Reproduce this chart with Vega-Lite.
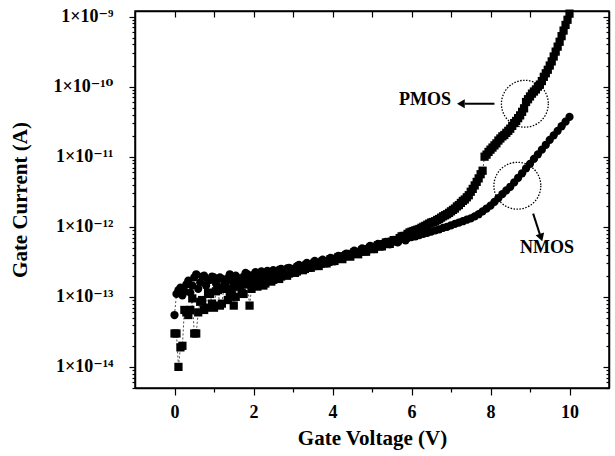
{
  "$schema": "https://vega.github.io/schema/vega-lite/v6.json",
  "width": 474,
  "height": 377,
  "autosize": {"type": "none"},
  "padding": {"left": 135, "top": 11, "right": 6, "bottom": 68},
  "background": "white",
  "config": {"view": {"stroke": "black", "strokeWidth": 1.5}, "font": "Liberation Serif"},
  "datasets": {
    "curves": [
      {"s":"N","v":0.0,"i":5.5e-14},{"s":"N","v":0.1,"i":1.25e-13},{"s":"N","v":0.2,"i":1.05e-13},{"s":"N","v":0.3,"i":1.5e-13},{"s":"N","v":0.4,"i":1.15e-13},{"s":"N","v":0.5,"i":1.9e-13},{"s":"N","v":0.6,"i":1.3e-13},{"s":"N","v":0.7,"i":1.95e-13},{"s":"N","v":0.8,"i":1.45e-13},{"s":"N","v":0.9,"i":1.75e-13},
      {"s":"N","v":1.0,"i":1.9e-13},{"s":"N","v":1.1,"i":1.35e-13},{"s":"N","v":1.2,"i":1.8e-13},{"s":"N","v":1.3,"i":1.6e-13},{"s":"N","v":1.4,"i":2.1e-13},{"s":"N","v":1.5,"i":1.55e-13},{"s":"N","v":1.6,"i":1.85e-13},{"s":"N","v":1.7,"i":1.5e-13},{"s":"N","v":1.8,"i":2.2e-13},{"s":"N","v":1.9,"i":1.7e-13},
      {"s":"N","v":2.0,"i":2.05e-13},{"s":"N","v":2.1,"i":1.75e-13},{"s":"N","v":2.2,"i":2.3e-13},{"s":"N","v":2.3,"i":1.9e-13},{"s":"N","v":2.4,"i":2.15e-13},{"s":"N","v":2.5,"i":2.4e-13},{"s":"N","v":2.6,"i":2.0e-13},{"s":"N","v":2.7,"i":2.5e-13},{"s":"N","v":2.8,"i":2.2e-13},{"s":"N","v":2.9,"i":2.6e-13},
      {"s":"N","v":3.0,"i":2.35e-13},{"s":"N","v":3.1,"i":2.75e-13},{"s":"N","v":3.2,"i":2.5e-13},{"s":"N","v":3.3,"i":2.85e-13},{"s":"N","v":3.4,"i":2.65e-13},{"s":"N","v":3.5,"i":3.0e-13},{"s":"N","v":3.6,"i":2.85e-13},{"s":"N","v":3.7,"i":3.15e-13},{"s":"N","v":3.8,"i":3.05e-13},{"s":"N","v":3.9,"i":3.35e-13},
      {"s":"N","v":4.0,"i":3.45e-13},{"s":"N","v":4.1,"i":3.55e-13},{"s":"N","v":4.2,"i":3.7e-13},{"s":"N","v":4.3,"i":3.85e-13},{"s":"N","v":4.4,"i":3.95e-13},{"s":"N","v":4.5,"i":4.15e-13},{"s":"N","v":4.6,"i":4.3e-13},{"s":"N","v":4.7,"i":4.45e-13},{"s":"N","v":4.8,"i":4.7e-13},{"s":"N","v":4.9,"i":4.85e-13},
      {"s":"N","v":5.0,"i":5.1e-13},{"s":"N","v":5.1,"i":5.25e-13},{"s":"N","v":5.2,"i":5.45e-13},{"s":"N","v":5.3,"i":5.7e-13},{"s":"N","v":5.4,"i":5.9e-13},{"s":"N","v":5.5,"i":6.1e-13},{"s":"N","v":5.6,"i":6.3e-13},{"s":"N","v":5.7,"i":6.5e-13},{"s":"N","v":5.8,"i":6.7e-13},{"s":"N","v":5.9,"i":6.9e-13},
      {"s":"N","v":0.05,"i":1.1e-13},{"s":"N","v":0.15,"i":1.35e-13},{"s":"N","v":0.25,"i":1.2e-13},{"s":"N","v":0.35,"i":1.7e-13},{"s":"N","v":0.45,"i":1.45e-13},{"s":"N","v":0.55,"i":2.1e-13},{"s":"N","v":0.65,"i":1.6e-13},{"s":"N","v":0.75,"i":2.0e-13},{"s":"N","v":0.85,"i":1.7e-13},{"s":"N","v":0.95,"i":1.95e-13},
      {"s":"N","v":1.05,"i":1.55e-13},{"s":"N","v":1.15,"i":1.9e-13},{"s":"N","v":1.25,"i":1.45e-13},{"s":"N","v":1.35,"i":1.85e-13},{"s":"N","v":1.45,"i":1.7e-13},{"s":"N","v":1.55,"i":2.0e-13},{"s":"N","v":1.65,"i":1.65e-13},{"s":"N","v":1.75,"i":1.95e-13},{"s":"N","v":1.85,"i":2.1e-13},{"s":"N","v":1.95,"i":1.8e-13},
      {"s":"N","v":2.05,"i":2.25e-13},{"s":"N","v":2.15,"i":1.95e-13},{"s":"N","v":2.25,"i":2.05e-13},{"s":"N","v":2.35,"i":2.35e-13},{"s":"N","v":2.45,"i":2.0e-13},{"s":"N","v":2.55,"i":2.3e-13},{"s":"N","v":2.65,"i":2.45e-13},{"s":"N","v":2.75,"i":2.15e-13},{"s":"N","v":2.85,"i":2.55e-13},{"s":"N","v":2.95,"i":2.4e-13},
      {"s":"N","v":3.05,"i":2.25e-13},{"s":"N","v":3.15,"i":2.85e-13},{"s":"N","v":3.25,"i":2.45e-13},{"s":"N","v":3.35,"i":3.05e-13},{"s":"N","v":3.45,"i":2.6e-13},{"s":"N","v":3.55,"i":3.25e-13},{"s":"N","v":3.65,"i":2.8e-13},{"s":"N","v":3.75,"i":3.4e-13},{"s":"N","v":3.85,"i":3.0e-13},{"s":"N","v":3.95,"i":3.6e-13},
      {"s":"N","v":4.05,"i":3.2e-13},{"s":"N","v":4.15,"i":3.85e-13},{"s":"N","v":4.25,"i":3.5e-13},{"s":"N","v":4.35,"i":4.15e-13},{"s":"N","v":4.45,"i":3.8e-13},{"s":"N","v":4.55,"i":4.55e-13},{"s":"N","v":4.65,"i":4.1e-13},{"s":"N","v":4.75,"i":4.9e-13},{"s":"N","v":4.85,"i":4.45e-13},{"s":"N","v":4.95,"i":5.35e-13},
      {"s":"N","v":5.05,"i":4.8e-13},{"s":"N","v":5.15,"i":5.7e-13},{"s":"N","v":5.25,"i":5.2e-13},{"s":"N","v":5.35,"i":6.1e-13},{"s":"N","v":5.45,"i":5.6e-13},{"s":"N","v":5.55,"i":6.5e-13},{"s":"N","v":5.65,"i":6.0e-13},{"s":"N","v":5.75,"i":6.95e-13},{"s":"N","v":5.85,"i":6.4e-13},{"s":"N","v":5.95,"i":7.3e-13},
      {"s":"N","v":6.0,"i":7.1e-13},{"s":"N","v":6.1,"i":7.3e-13},{"s":"N","v":6.2,"i":7.6e-13},{"s":"N","v":6.3,"i":7.9e-13},{"s":"N","v":6.4,"i":8.2e-13},{"s":"N","v":6.5,"i":8.5e-13},{"s":"N","v":6.6,"i":8.9e-13},{"s":"N","v":6.7,"i":9.2e-13},{"s":"N","v":6.8,"i":9.65e-13},{"s":"N","v":6.9,"i":1.0e-12},
      {"s":"N","v":7.0,"i":1.05e-12},{"s":"N","v":7.1,"i":1.1e-12},{"s":"N","v":7.2,"i":1.15e-12},{"s":"N","v":7.3,"i":1.2e-12},{"s":"N","v":7.4,"i":1.26e-12},{"s":"N","v":7.5,"i":1.32e-12},{"s":"N","v":7.6,"i":1.41e-12},{"s":"N","v":7.7,"i":1.51e-12},{"s":"N","v":7.8,"i":1.66e-12},{"s":"N","v":7.9,"i":1.82e-12},
      {"s":"N","v":8.0,"i":2.0e-12},{"s":"N","v":8.1,"i":2.26e-12},{"s":"N","v":8.2,"i":2.57e-12},{"s":"N","v":8.3,"i":2.92e-12},{"s":"N","v":8.4,"i":3.31e-12},{"s":"N","v":8.5,"i":3.72e-12},{"s":"N","v":8.6,"i":4.3e-12},{"s":"N","v":8.7,"i":5.0e-12},{"s":"N","v":8.8,"i":5.8e-12},{"s":"N","v":8.9,"i":6.8e-12},
      {"s":"N","v":9.0,"i":7.9e-12},{"s":"N","v":9.1,"i":9.3e-12},{"s":"N","v":9.2,"i":1.08e-11},{"s":"N","v":9.3,"i":1.26e-11},{"s":"N","v":9.4,"i":1.48e-11},{"s":"N","v":9.5,"i":1.74e-11},{"s":"N","v":9.6,"i":2.02e-11},{"s":"N","v":9.7,"i":2.34e-11},{"s":"N","v":9.8,"i":2.72e-11},{"s":"N","v":9.9,"i":3.16e-11},{"s":"N","v":10.0,"i":3.7e-11},

      {"s":"P","v":0.0,"i":3.0e-14},{"s":"P","v":0.1,"i":1.0e-14},{"s":"P","v":0.2,"i":2.0e-14},{"s":"P","v":0.3,"i":6.0e-14},{"s":"P","v":0.4,"i":6.5e-14},{"s":"P","v":0.5,"i":3.0e-14},{"s":"P","v":0.6,"i":6.0e-14},{"s":"P","v":0.7,"i":9.0e-14},{"s":"P","v":0.8,"i":7.0e-14},{"s":"P","v":0.9,"i":1.1e-13},
      {"s":"P","v":1.0,"i":7.0e-14},{"s":"P","v":1.1,"i":1.25e-13},{"s":"P","v":1.2,"i":8.0e-14},{"s":"P","v":1.3,"i":1.3e-13},{"s":"P","v":1.4,"i":1.05e-13},{"s":"P","v":1.5,"i":7.5e-14},{"s":"P","v":1.6,"i":1.4e-13},{"s":"P","v":1.7,"i":1.15e-13},{"s":"P","v":1.8,"i":1.5e-13},{"s":"P","v":1.9,"i":7.5e-14},
      {"s":"P","v":2.0,"i":1.6e-13},{"s":"P","v":2.1,"i":1.4e-13},{"s":"P","v":2.2,"i":1.8e-13},{"s":"P","v":2.3,"i":1.55e-13},{"s":"P","v":2.4,"i":2.0e-13},{"s":"P","v":2.5,"i":1.75e-13},{"s":"P","v":2.6,"i":2.2e-13},{"s":"P","v":2.7,"i":1.95e-13},{"s":"P","v":2.8,"i":2.35e-13},{"s":"P","v":2.9,"i":2.15e-13},
      {"s":"P","v":3.0,"i":2.5e-13},{"s":"P","v":3.1,"i":2.3e-13},{"s":"P","v":3.2,"i":2.6e-13},{"s":"P","v":3.3,"i":2.5e-13},{"s":"P","v":3.4,"i":2.8e-13},{"s":"P","v":3.5,"i":2.75e-13},{"s":"P","v":3.6,"i":3.0e-13},{"s":"P","v":3.7,"i":2.95e-13},{"s":"P","v":3.8,"i":3.2e-13},{"s":"P","v":3.9,"i":3.15e-13},
      {"s":"P","v":4.0,"i":3.4e-13},{"s":"P","v":4.1,"i":3.5e-13},{"s":"P","v":4.2,"i":3.6e-13},{"s":"P","v":4.3,"i":3.8e-13},{"s":"P","v":4.4,"i":3.9e-13},{"s":"P","v":4.5,"i":4.1e-13},{"s":"P","v":4.6,"i":4.25e-13},{"s":"P","v":4.7,"i":4.4e-13},{"s":"P","v":4.8,"i":4.6e-13},{"s":"P","v":4.9,"i":4.8e-13},
      {"s":"P","v":5.0,"i":5.0e-13},{"s":"P","v":5.1,"i":5.2e-13},{"s":"P","v":5.2,"i":5.45e-13},{"s":"P","v":5.3,"i":5.65e-13},{"s":"P","v":5.4,"i":5.9e-13},{"s":"P","v":5.5,"i":6.15e-13},{"s":"P","v":5.6,"i":6.4e-13},{"s":"P","v":5.7,"i":6.9e-13},{"s":"P","v":5.8,"i":7.4e-13},{"s":"P","v":5.9,"i":7.9e-13},
      {"s":"P","v":0.05,"i":3.0e-14},{"s":"P","v":0.15,"i":1.9e-14},{"s":"P","v":0.25,"i":6.5e-14},{"s":"P","v":0.35,"i":5.5e-14},{"s":"P","v":0.45,"i":9.5e-14},{"s":"P","v":0.55,"i":3.0e-14},{"s":"P","v":0.65,"i":8.5e-14},{"s":"P","v":0.75,"i":6.5e-14},{"s":"P","v":0.85,"i":1.15e-13},{"s":"P","v":0.95,"i":8.0e-14},
      {"s":"P","v":1.05,"i":1.2e-13},{"s":"P","v":1.15,"i":7.5e-14},{"s":"P","v":1.25,"i":1.35e-13},{"s":"P","v":1.35,"i":9.0e-14},{"s":"P","v":1.45,"i":1.3e-13},{"s":"P","v":1.55,"i":1.0e-13},{"s":"P","v":1.65,"i":1.45e-13},{"s":"P","v":1.75,"i":1.1e-13},{"s":"P","v":1.85,"i":1.55e-13},{"s":"P","v":1.95,"i":1.3e-13},
      {"s":"P","v":2.05,"i":1.5e-13},{"s":"P","v":2.15,"i":1.7e-13},{"s":"P","v":2.25,"i":1.45e-13},{"s":"P","v":2.35,"i":1.9e-13},{"s":"P","v":2.45,"i":1.65e-13},{"s":"P","v":2.55,"i":2.1e-13},{"s":"P","v":2.65,"i":1.8e-13},{"s":"P","v":2.75,"i":2.25e-13},{"s":"P","v":2.85,"i":2.0e-13},{"s":"P","v":2.95,"i":2.45e-13},
      {"s":"P","v":3.05,"i":2.2e-13},{"s":"P","v":3.15,"i":2.65e-13},{"s":"P","v":3.25,"i":2.4e-13},{"s":"P","v":3.35,"i":2.85e-13},{"s":"P","v":3.45,"i":2.6e-13},{"s":"P","v":3.55,"i":3.05e-13},{"s":"P","v":3.65,"i":2.75e-13},{"s":"P","v":3.75,"i":3.2e-13},{"s":"P","v":3.85,"i":3.0e-13},{"s":"P","v":3.95,"i":3.45e-13},
      {"s":"P","v":4.05,"i":3.25e-13},{"s":"P","v":4.15,"i":3.7e-13},{"s":"P","v":4.25,"i":3.45e-13},{"s":"P","v":4.35,"i":3.95e-13},{"s":"P","v":4.45,"i":3.75e-13},{"s":"P","v":4.55,"i":4.3e-13},{"s":"P","v":4.65,"i":4.05e-13},{"s":"P","v":4.75,"i":4.6e-13},{"s":"P","v":4.85,"i":4.4e-13},{"s":"P","v":4.95,"i":5.0e-13},
      {"s":"P","v":5.05,"i":4.8e-13},{"s":"P","v":5.15,"i":5.45e-13},{"s":"P","v":5.25,"i":5.25e-13},{"s":"P","v":5.35,"i":5.95e-13},{"s":"P","v":5.45,"i":5.7e-13},{"s":"P","v":5.55,"i":6.45e-13},{"s":"P","v":5.65,"i":6.4e-13},{"s":"P","v":5.75,"i":7.3e-13},{"s":"P","v":5.85,"i":7.4e-13},{"s":"P","v":5.95,"i":8.3e-13},
      {"s":"P","v":6.0,"i":8.5e-13},{"s":"P","v":6.05,"i":8.7e-13},{"s":"P","v":6.1,"i":8.9e-13},{"s":"P","v":6.15,"i":9.1e-13},{"s":"P","v":6.2,"i":9.3e-13},{"s":"P","v":6.25,"i":9.65e-13},{"s":"P","v":6.3,"i":1.0e-12},{"s":"P","v":6.35,"i":1.03e-12},{"s":"P","v":6.4,"i":1.07e-12},{"s":"P","v":6.45,"i":1.11e-12},
      {"s":"P","v":6.5,"i":1.15e-12},{"s":"P","v":6.55,"i":1.17e-12},{"s":"P","v":6.6,"i":1.2e-12},{"s":"P","v":6.65,"i":1.25e-12},{"s":"P","v":6.7,"i":1.29e-12},{"s":"P","v":6.75,"i":1.35e-12},{"s":"P","v":6.8,"i":1.41e-12},{"s":"P","v":6.85,"i":1.46e-12},{"s":"P","v":6.9,"i":1.51e-12},{"s":"P","v":6.95,"i":1.58e-12},
      {"s":"P","v":7.0,"i":1.66e-12},{"s":"P","v":7.05,"i":1.74e-12},{"s":"P","v":7.1,"i":1.82e-12},{"s":"P","v":7.15,"i":1.95e-12},{"s":"P","v":7.2,"i":2.04e-12},{"s":"P","v":7.25,"i":2.19e-12},{"s":"P","v":7.3,"i":2.34e-12},{"s":"P","v":7.35,"i":2.45e-12},{"s":"P","v":7.4,"i":2.63e-12},{"s":"P","v":7.45,"i":2.82e-12},
      {"s":"P","v":7.5,"i":3.16e-12},{"s":"P","v":7.55,"i":3.47e-12},{"s":"P","v":7.6,"i":3.89e-12},{"s":"P","v":7.65,"i":4.37e-12},{"s":"P","v":7.7,"i":4.9e-12},{"s":"P","v":7.75,"i":5.62e-12},{"s":"P","v":7.8,"i":6.31e-12},{"s":"P","v":7.85,"i":1.0e-11},{"s":"P","v":7.9,"i":1.07e-11},{"s":"P","v":7.95,"i":1.17e-11},
      {"s":"P","v":8.0,"i":1.26e-11},{"s":"P","v":8.05,"i":1.35e-11},{"s":"P","v":8.1,"i":1.45e-11},{"s":"P","v":8.15,"i":1.55e-11},{"s":"P","v":8.2,"i":1.7e-11},{"s":"P","v":8.25,"i":1.82e-11},{"s":"P","v":8.3,"i":1.95e-11},{"s":"P","v":8.35,"i":2.04e-11},{"s":"P","v":8.4,"i":2.19e-11},{"s":"P","v":8.45,"i":2.34e-11},
      {"s":"P","v":8.5,"i":2.51e-11},{"s":"P","v":8.55,"i":2.75e-11},{"s":"P","v":8.6,"i":3.02e-11},{"s":"P","v":8.65,"i":3.24e-11},{"s":"P","v":8.7,"i":3.55e-11},{"s":"P","v":8.75,"i":3.89e-11},{"s":"P","v":8.8,"i":4.37e-11},{"s":"P","v":8.85,"i":4.9e-11},{"s":"P","v":8.9,"i":6.03e-11},{"s":"P","v":8.95,"i":6.61e-11},
      {"s":"P","v":9.0,"i":7.24e-11},{"s":"P","v":9.05,"i":7.94e-11},{"s":"P","v":9.1,"i":8.51e-11},{"s":"P","v":9.15,"i":9.12e-11},{"s":"P","v":9.2,"i":1.0e-10},{"s":"P","v":9.25,"i":1.07e-10},{"s":"P","v":9.3,"i":1.2e-10},{"s":"P","v":9.35,"i":1.38e-10},{"s":"P","v":9.4,"i":1.55e-10},{"s":"P","v":9.45,"i":1.74e-10},
      {"s":"P","v":9.5,"i":2.0e-10},{"s":"P","v":9.55,"i":2.29e-10},{"s":"P","v":9.6,"i":2.69e-10},{"s":"P","v":9.65,"i":3.16e-10},{"s":"P","v":9.7,"i":3.72e-10},{"s":"P","v":9.75,"i":4.37e-10},{"s":"P","v":9.8,"i":5.25e-10},{"s":"P","v":9.85,"i":6.31e-10},{"s":"P","v":9.9,"i":7.59e-10},{"s":"P","v":9.95,"i":9.0e-10},{"s":"P","v":10.0,"i":1.1e-9}
    ],
    "rings": [
      {"v": 8.87, "i": 5.7e-11},
      {"v": 8.68, "i": 3.85e-12}
    ],
    "arrows": [
      {"v": 8.1, "i": 5.7e-11, "v2": 7.35, "i2": 5.7e-11},
      {"v": 9.08, "i": 1.54e-12, "v2": 9.25, "i2": 7.8e-13}
    ],
    "heads": [
      {"v": 7.25, "i": 5.7e-11, "a": 90},
      {"v": 9.28, "i": 7.0e-13, "a": -18}
    ],
    "labels": [
      {"v": 6.34, "i": 6.4e-11, "t": "PMOS"},
      {"v": 9.43, "i": 4.9e-13, "t": "NMOS"}
    ]
  },
  "layer": [
    {
      "data": {"name": "curves"},
      "mark": {"type": "line", "strokeWidth": 0.7, "strokeDash": [2, 2], "color": "black"},
      "encoding": {
        "x": {"field": "v", "type": "quantitative", "scale": {"domain": [-1, 11], "nice": false, "zero": false},
          "axis": {"orient": "top", "values": [0,1,2,3,4,5,6,7,8,9,10], "labels": false, "title": null, "grid": false,
            "tickSize": -6, "tickColor": "black", "tickWidth": 1.2, "domainColor": "black", "domainWidth": 1.5}},
        "y": {"field": "i", "type": "quantitative", "scale": {"type": "log", "domain": [5e-15, 1.2e-9], "nice": false},
          "axis": {"orient": "right", "labels": false, "title": null, "grid": false,
            "values": [5e-15,6e-15,7e-15,8e-15,9e-15,1e-14,2e-14,3e-14,4e-14,5e-14,6e-14,7e-14,8e-14,9e-14,1e-13,2e-13,3e-13,4e-13,5e-13,6e-13,7e-13,8e-13,9e-13,1e-12,2e-12,3e-12,4e-12,5e-12,6e-12,7e-12,8e-12,9e-12,1e-11,2e-11,3e-11,4e-11,5e-11,6e-11,7e-11,8e-11,9e-11,1e-10,2e-10,3e-10,4e-10,5e-10,6e-10,7e-10,8e-10,9e-10,1e-9],
            "tickSize": {"condition": {"test": "abs(log(datum.value)/LN10-round(log(datum.value)/LN10))<0.001", "value": -6}, "value": -3},
            "tickColor": "black", "tickWidth": 1.2, "domainColor": "black", "domainWidth": 1.5}},
        "detail": {"field": "s"},
        "order": {"field": "v", "type": "quantitative"}
      }
    },
    {
      "data": {"name": "curves"},
      "mark": {"type": "point", "filled": true, "opacity": 1, "strokeWidth": 0},
      "encoding": {
        "x": {"field": "v", "type": "quantitative",
          "axis": {"orient": "bottom", "values": [0,1,2,3,4,5,6,7,8,9,10], "grid": false,
            "labelExpr": "datum.value % 2 == 0 ? format(datum.value, 'd') : ''",
            "labelFont": "Liberation Serif", "labelFontSize": 18, "labelFontWeight": "bold", "labelColor": "black",
            "labelOverlap": false, "labelFlush": false, "labelBound": false, "labelPadding": 8,
            "tickSize": {"condition": {"test": "datum.value % 2 == 0", "value": 7}, "value": 4},
            "tickColor": "black", "tickWidth": 1.2, "domainColor": "black", "domainWidth": 1.5,
            "title": "Gate Voltage (V)", "titleFont": "Liberation Serif", "titleFontSize": 21, "titleFontWeight": "bold", "titleColor": "black", "titlePadding": 6}},
        "y": {"field": "i", "type": "quantitative", "scale": {"type": "log"},
          "axis": {"orient": "left", "grid": false,
            "values": [5e-15,6e-15,7e-15,8e-15,9e-15,1e-14,2e-14,3e-14,4e-14,5e-14,6e-14,7e-14,8e-14,9e-14,1e-13,2e-13,3e-13,4e-13,5e-13,6e-13,7e-13,8e-13,9e-13,1e-12,2e-12,3e-12,4e-12,5e-12,6e-12,7e-12,8e-12,9e-12,1e-11,2e-11,3e-11,4e-11,5e-11,6e-11,7e-11,8e-11,9e-11,1e-10,2e-10,3e-10,4e-10,5e-10,6e-10,7e-10,8e-10,9e-10,1e-9],
            "labelExpr": "abs(log(datum.value)/LN10-round(log(datum.value)/LN10))<0.001 ? '1×10' + (round(log(datum.value)/LN10)==-9 ? '⁻⁹' : round(log(datum.value)/LN10)==-10 ? '⁻¹⁰' : round(log(datum.value)/LN10)==-11 ? '⁻¹¹' : round(log(datum.value)/LN10)==-12 ? '⁻¹²' : round(log(datum.value)/LN10)==-13 ? '⁻¹³' : '⁻¹⁴') : ''",
            "labelFont": "Liberation Serif, DejaVu Serif", "labelFontSize": 18, "labelFontWeight": "bold", "labelColor": "black",
            "labelOverlap": false, "labelFlush": false, "labelBound": false, "labelPadding": 16,
            "tickSize": {"condition": {"test": "abs(log(datum.value)/LN10-round(log(datum.value)/LN10))<0.001", "value": 6}, "value": 3},
            "tickColor": "black", "tickWidth": 1.2, "domainColor": "black", "domainWidth": 1.5,
            "title": "Gate Current (A)", "titleFont": "Liberation Serif", "titleFontSize": 21, "titleFontWeight": "bold", "titleColor": "black", "titlePadding": 22}},
        "shape": {"field": "s", "type": "nominal", "scale": {"domain": ["P", "N"], "range": ["square", "circle"]}, "legend": null},
        "color": {"value": "black"},
        "size": {"value": 68}
      }
    },
    {
      "data": {"name": "rings"},
      "mark": {"type": "point", "shape": "circle", "filled": false, "size": 2200, "stroke": "black", "strokeWidth": 1.3, "strokeDash": [1.5, 1.5], "opacity": 1},
      "encoding": {
        "x": {"field": "v", "type": "quantitative", "axis": null},
        "y": {"field": "i", "type": "quantitative", "scale": {"type": "log"}, "axis": null}
      }
    },
    {
      "data": {"name": "arrows"},
      "mark": {"type": "rule", "color": "black", "strokeWidth": 2},
      "encoding": {
        "x": {"field": "v", "type": "quantitative", "axis": null},
        "x2": {"field": "v2"},
        "y": {"field": "i", "type": "quantitative", "scale": {"type": "log"}, "axis": null},
        "y2": {"field": "i2"}
      }
    },
    {
      "data": {"name": "heads"},
      "mark": {"type": "point", "shape": "triangle-down", "filled": true, "opacity": 1, "size": 80, "color": "black", "strokeWidth": 0},
      "encoding": {
        "x": {"field": "v", "type": "quantitative", "axis": null},
        "y": {"field": "i", "type": "quantitative", "scale": {"type": "log"}, "axis": null},
        "angle": {"field": "a", "type": "quantitative", "scale": null}
      }
    },
    {
      "data": {"name": "labels"},
      "mark": {"type": "text", "font": "Liberation Serif", "fontSize": 18, "fontWeight": "bold", "color": "black", "align": "center", "baseline": "middle"},
      "encoding": {
        "x": {"field": "v", "type": "quantitative", "axis": null},
        "y": {"field": "i", "type": "quantitative", "scale": {"type": "log"}, "axis": null},
        "text": {"field": "t"}
      }
    }
  ],
  "resolve": {"axis": {"x": "independent", "y": "independent"}}
}
